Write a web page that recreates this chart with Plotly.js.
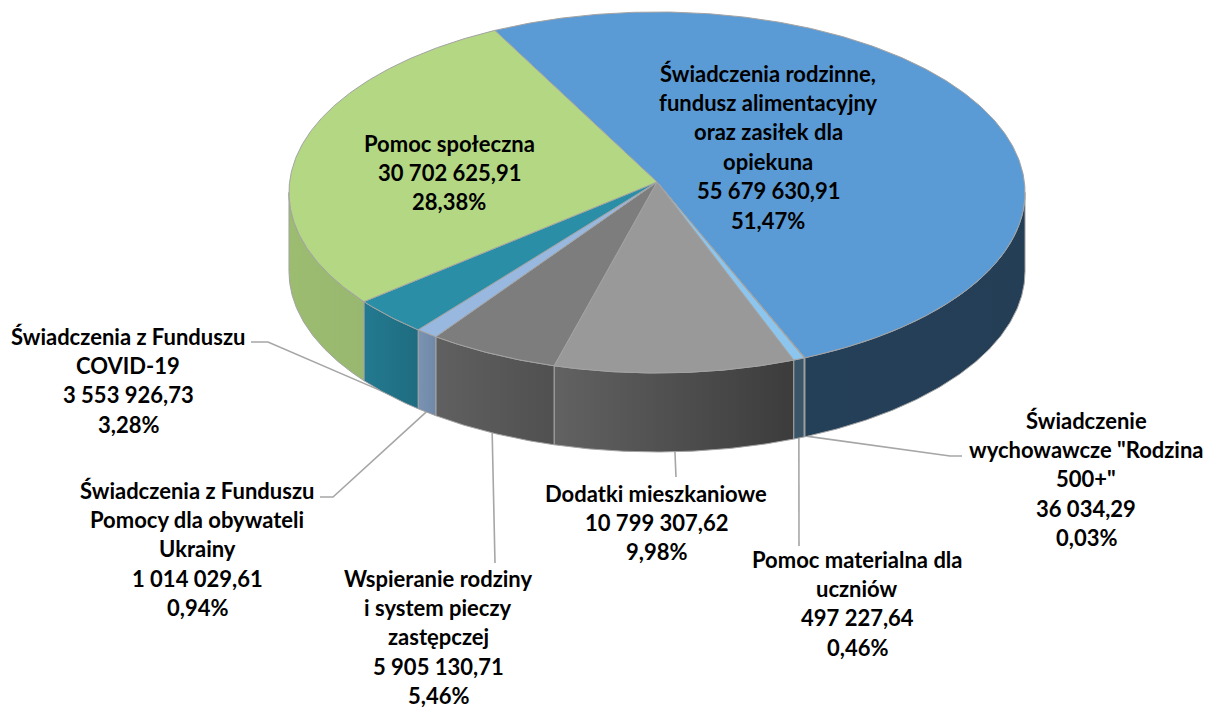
<!DOCTYPE html>
<html>
<head>
<meta charset="utf-8">
<script src="https://cdn.plot.ly/plotly-3.0.1.min.js"></script>
<style>html,body{margin:0;padding:0;background:#fff}#chart{width:1208px;height:709px}</style>
</head>
<body>
<div id="chart"></div>
<script>
// ---- data (clockwise from the blue slice) ----
const categories = [
  ["Świadczenia rodzinne,", "fundusz alimentacyjny", "oraz zasiłek dla", "opiekuna"],
  ["Świadczenie", "wychowawcze \"Rodzina", "500+\""],
  ["Pomoc materialna dla", "uczniów"],
  ["Dodatki mieszkaniowe"],
  ["Wspieranie rodziny", "i system pieczy", "zastępczej"],
  ["Świadczenia z Funduszu", "Pomocy dla obywateli", "Ukrainy"],
  ["Świadczenia z Funduszu", "COVID-19"],
  ["Pomoc społeczna"]
];
const values = [55679630.91, 36034.29, 497227.64, 10799307.62, 5905130.71, 1014029.61, 3553926.73, 30702625.91];
const valueLabels = ["55 679 630,91", "36 034,29", "497 227,64", "10 799 307,62", "5 905 130,71", "1 014 029,61", "3 553 926,73", "30 702 625,91"];
const percentLabels = ["51,47%", "0,03%", "0,46%", "9,98%", "5,46%", "0,94%", "3,28%", "28,38%"];

// ---- style ----
const topColors = ["#5b9bd5", "#7fb2dc", "#8cc6ee", "#999999", "#7d7d7d", "#99b8e0", "#2a8fa6", "#b3d783"];
const sideLeft  = ["#244058", "#3a5568", "#3a5568", "#626262", "#606060", "#7a93b2", "#237a90", "#9cbc70"];
const sideRight = ["#243e56", "#3a5568", "#3a5568", "#3c3c3c", "#505050", "#7089a8", "#1f6c80", "#98b870"];
const edgeColor = "#a3a3a3";

// ---- geometry of the projected disc ----
const HUB_X = 657, HUB_Y = 182, RX = 367.4, RY = 179.9, PERSP = 0.058, DEPTH = 79;
const START_DEG = -27.65;
const SIDE_FROM = 93.3, SIDE_TO = 266.7;   // visible part of the wall

// ---- label layout ----
const labelCenters = [[768, 73], [1086, 420], [857, 559], [656, 493], [438, 578], [197, 490], [128, 336], [449, 143]];
const LINE_H = 29.4;
const FONT = {family: "Lato, Carlito, sans-serif", size: 22, color: "#000"};
// leader paths: label side points, joined to the bottom rim at the slice's middle angle
const leaderPaths = {
  1: [[962, 456], [950, 456]],
  2: [[799, 546]],
  3: [[676, 477]],
  4: [[495, 563]],
  5: [[320, 497], [333, 497]],
  6: [[251, 342], [268, 342]]
};

function project(deg, drop) {
  const r = deg * Math.PI / 180, u = Math.sin(r), v = -Math.cos(r), w = 1 - PERSP * v;
  return [HUB_X + RX * u / w, HUB_Y + RY * v / w + (drop || 0)];
}
function arc(a, b, drop) {
  const pts = [], n = Math.max(2, Math.ceil(Math.abs(b - a) / 0.5));
  for (let i = 0; i <= n; i++) pts.push(project(a + (b - a) * i / n, drop));
  return pts;
}
function polyTrace(pts, extra) {
  return Object.assign({
    type: "scatter", mode: "lines", x: pts.map(p => p[0]), y: pts.map(p => p[1]),
    fill: "toself", hoverinfo: "skip", line: {color: edgeColor, width: 1}
  }, extra);
}

const total = values.reduce((s, v) => s + v, 0);
let cursor = START_DEG;
const spans = values.map(v => { const a = cursor; cursor += v / total * 360; return [a, cursor]; });

const traces = [];
// leaders
Object.keys(leaderPaths).forEach(k => {
  const s = spans[k], mid = (s[0] + s[1]) / 2;
  const pts = leaderPaths[k].concat([project(mid, DEPTH - 1)]);
  traces.push({type: "scatter", mode: "lines", x: pts.map(p => p[0]), y: pts.map(p => p[1]),
    hoverinfo: "skip", line: {color: "#a6a6a6", width: 1.6}});
});
// walls
spans.forEach((s, i) => {
  const a = Math.max(s[0], SIDE_FROM), b = Math.min(s[1], SIDE_TO);
  if (b <= a) return;
  const pts = arc(a, b, 0).concat(arc(b, a, DEPTH));
  pts.push(pts[0]);
  traces.push(polyTrace(pts, {
    fillgradient: {type: "horizontal", colorscale: [[0, sideLeft[i]], [1, sideRight[i]]]}
  }));
});
// top face
spans.forEach((s, i) => {
  const pts = [[HUB_X, HUB_Y]].concat(arc(s[0], s[1], 0));
  pts.push([HUB_X, HUB_Y]);
  traces.push(polyTrace(pts, {fillcolor: topColors[i]}));
});

// labels
const annotations = [];
categories.forEach((lines, i) => {
  lines.concat([valueLabels[i], percentLabels[i]]).forEach((t, j) => {
    annotations.push({
      x: labelCenters[i][0], y: labelCenters[i][1] + j * LINE_H, xref: "x", yref: "y",
      text: "<b>" + t + "</b>", showarrow: false, xanchor: "center", yanchor: "middle",
      font: FONT, borderpad: 0
    });
  });
});

const hidden = {visible: false, fixedrange: true};
Plotly.newPlot("chart", traces, {
  width: 1208, height: 709, margin: {l: 0, r: 0, t: 0, b: 0},
  paper_bgcolor: "#fff", plot_bgcolor: "#fff", showlegend: false,
  xaxis: Object.assign({range: [0, 1208]}, hidden),
  yaxis: Object.assign({range: [709, 0]}, hidden),
  annotations: annotations
}, {displayModeBar: false, staticPlot: true});
</script>
</body>
</html>
